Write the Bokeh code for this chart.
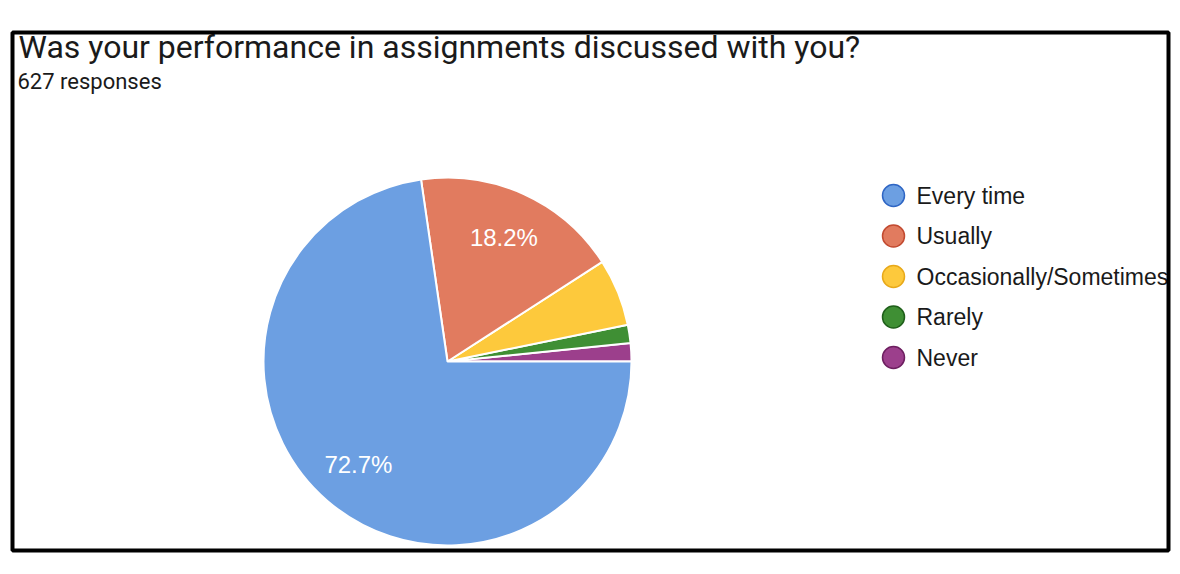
import math
from bokeh.plotting import figure
from bokeh.models import ColumnDataSource, Range1d, BoxAnnotation
from bokeh.core.properties import value
from bokeh.embed import file_html
from bokeh.resources import INLINE

# ---- data ----
categories = ["Every time", "Usually", "Occasionally/Sometimes", "Rarely", "Never"]
percent = [72.7, 18.2, 5.9, 1.6, 1.6]
colors = ["#6c9fe2", "#e17b5f", "#fdc93c", "#3f8f34", "#9c3f8c"]
edge_colors = ["#2f66c4", "#c24a30", "#e8a91a", "#1f5f1a", "#6d1f60"]
title_text = "Was your performance in assignments discussed with you?"
subtitle_text = "627 responses"

W, H = 1172, 566
p = figure(width=W, height=H, x_range=Range1d(0, W), y_range=Range1d(0, H),
           output_backend="svg", toolbar_location=None, min_border=0)
p.axis.visible = False
p.grid.visible = False
p.outline_line_color = None
p.background_fill_color = "white"
p.border_fill_color = "white"

def Y(y_img):
    return H - y_img

# frame
p.add_layout(BoxAnnotation(left=12, right=1168, bottom=Y(550), top=Y(32),
                           fill_color=None, fill_alpha=0, line_color="black",
                           line_alpha=1, line_width=4))

# pie (slices drawn counter-clockwise from 3 o'clock in reverse order)
cx, cy, R = 447, Y(361), 184
starts, ends, cols, labs, lx, ly = [], [], [], [], [], []
acc = 0.0
for cat, pct, col in reversed(list(zip(categories, percent, colors))):
    a0 = acc
    a1 = acc + pct / 100.0 * 2 * math.pi
    starts.append(a0)
    ends.append(a1)
    cols.append(col)
    acc = a1
    if pct >= 10:
        mid = (a0 + a1) / 2
        labs.append(f"{pct}%")
        lx.append(cx + 0.74 * R * math.cos(mid))
        ly.append(cy + 0.74 * R * math.sin(mid))

src = ColumnDataSource(dict(start=starts, end=ends, color=cols))
p.wedge(x=cx, y=cy, radius=R, radius_units="screen", start_angle="start", end_angle="end",
        fill_color="color", line_color="white", line_width=2, source=src)

p.text(x=lx, y=ly, text=labs, text_color="white", text_font=value("Liberation Sans"),
       text_font_size="24px", text_align="center", text_baseline="middle")

# legend
leg_y = [Y(195 + 40.5 * i) for i in range(len(categories))]
p.scatter(x=[893] * len(categories), y=leg_y, size=22, marker="circle",
          fill_color=colors, line_color=edge_colors, line_width=1.5)
p.text(x=[916] * len(categories), y=leg_y, text=categories, text_color="#1a1a1a",
       text_font=value("Liberation Sans"), text_font_size="23px",
       text_align="left", text_baseline="middle")

# title
p.text(x=[18], y=[Y(46)], text=[title_text], text_color="#1a1a1a",
       text_font=value("Roboto"), text_font_size="32px",
       text_align="left", text_baseline="middle")
p.text(x=[17], y=[Y(81)], text=[subtitle_text], text_color="#1a1a1a",
       text_font=value("Roboto"), text_font_size="22px",
       text_align="left", text_baseline="middle")

open("out.html", "w").write(file_html(p, INLINE))
